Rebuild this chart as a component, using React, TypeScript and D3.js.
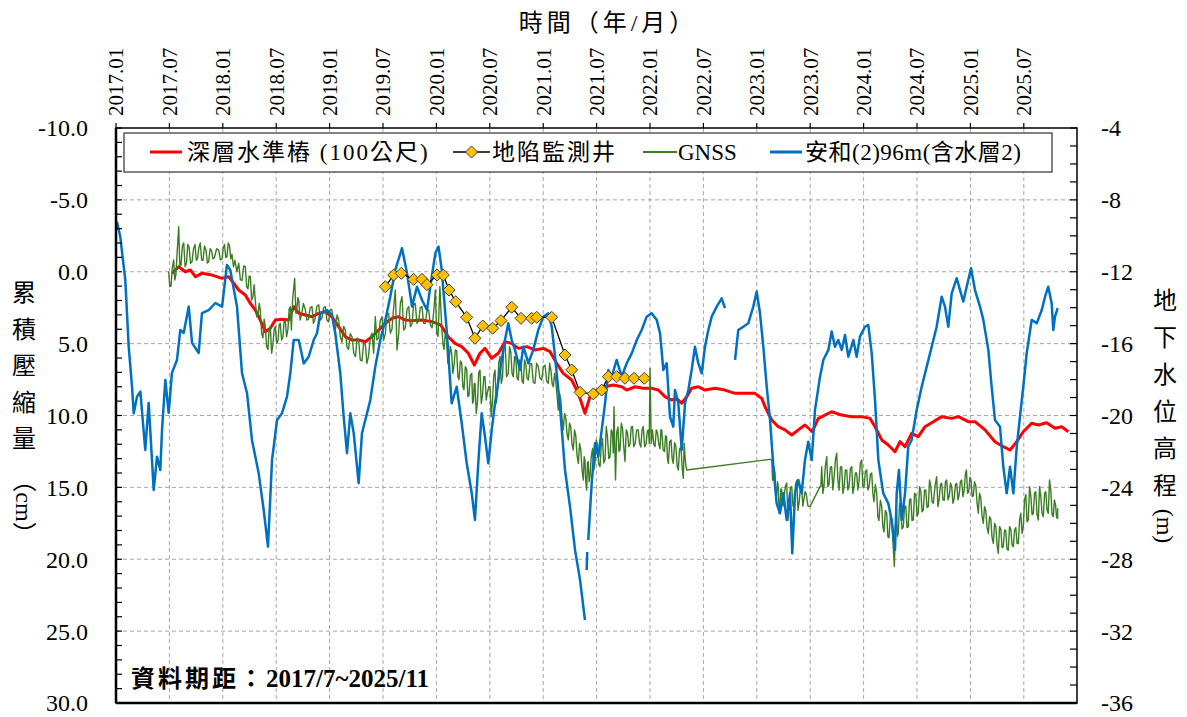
import React from "react";
import * as d3 from "d3";

// time axis labels (half-year)
const timeLabels = ["2017.01", "2017.07", "2018.01", "2018.07", "2019.01", "2019.07", "2020.01", "2020.07", "2021.01",
  "2021.07", "2022.01", "2022.07", "2023.01", "2023.07", "2024.01", "2024.07", "2025.01", "2025.07"];
const leftTicks = [-10, -5, 0, 5, 10, 15, 20, 25, 30];
const rightTicks = [-4, -8, -12, -16, -20, -24, -28, -32, -36];

// 深層水準樁 (100公尺) [decimal year, cm]
const benchmark: [number, number][] = [
  [2017.524, 0.11], [2017.587, -0.35], [2017.649, 0.0], [2017.696, -0.12], [2017.743, 0.34], [2017.805, 0.11],
  [2017.899, 0.23], [2017.993, 0.46], [2018.055, 0.34], [2018.102, 0.8], [2018.149, 1.27], [2018.211, 1.62],
  [2018.258, 2.2], [2018.304, 2.66], [2018.351, 3.36], [2018.398, 4.17], [2018.445, 3.93], [2018.492, 3.36],
  [2018.554, 3.31], [2018.617, 3.36], [2018.664, 2.43], [2018.711, 2.89], [2018.773, 3.01], [2018.835, 3.13],
  [2018.898, 2.89], [2018.96, 2.78], [2019.022, 3.13], [2019.085, 3.82], [2019.147, 4.52], [2019.21, 4.75],
  [2019.272, 4.75], [2019.334, 4.87], [2019.397, 4.52], [2019.46, 4.05], [2019.522, 3.59], [2019.584, 3.24],
  [2019.647, 3.13], [2019.709, 3.36], [2019.772, 3.4], [2019.865, 3.36], [2019.959, 3.47], [2020.037, 3.7],
  [2020.05, 3.82], [2020.111, 4.52], [2020.174, 4.98], [2020.237, 5.21], [2020.299, 5.67], [2020.355, 6.49],
  [2020.408, 5.67], [2020.455, 5.33], [2020.518, 6.02], [2020.58, 5.67], [2020.642, 4.87], [2020.705, 4.98],
  [2020.767, 5.33], [2020.846, 5.21], [2020.923, 5.44], [2021.001, 5.33], [2021.064, 5.56], [2021.126, 6.37],
  [2021.188, 7.07], [2021.267, 7.53], [2021.329, 8.46], [2021.391, 9.85], [2021.438, 8.69], [2021.501, 8.23],
  [2021.579, 8.0], [2021.656, 7.88], [2021.735, 8.0], [2021.782, 8.23], [2021.86, 8.0], [2021.937, 8.11],
  [2022.016, 8.11], [2022.078, 8.23], [2022.14, 8.69], [2022.203, 8.92], [2022.25, 8.81], [2022.297, 9.15],
  [2022.344, 8.69], [2022.39, 8.11], [2022.452, 8.0], [2022.515, 8.23], [2022.609, 8.11], [2022.702, 8.23],
  [2022.796, 8.46], [2022.89, 8.46], [2022.983, 8.46], [2023.046, 8.81], [2023.077, 9.39], [2023.14, 10.31],
  [2023.201, 10.78], [2023.264, 11.0], [2023.327, 11.36], [2023.389, 11.0], [2023.451, 10.66], [2023.52, 11.13],
  [2023.576, 10.2], [2023.639, 9.97], [2023.701, 9.74], [2023.795, 9.97], [2023.889, 10.08], [2023.982, 10.08],
  [2024.06, 10.2], [2024.107, 10.78], [2024.17, 11.7], [2024.231, 12.05], [2024.294, 12.52], [2024.341, 11.82],
  [2024.388, 12.17], [2024.45, 11.24], [2024.512, 11.47], [2024.575, 10.78], [2024.653, 10.43], [2024.731, 10.08],
  [2024.825, 10.2], [2024.887, 10.08], [2024.98, 10.43], [2025.043, 10.43], [2025.137, 11.0], [2025.23, 11.82],
  [2025.308, 12.17], [2025.371, 12.4], [2025.434, 11.82], [2025.495, 11.13], [2025.574, 10.54], [2025.636, 10.66],
  [2025.714, 10.5], [2025.792, 10.89], [2025.855, 10.78], [2025.917, 11.13],
];

// 地陷監測井 [decimal year, cm]
const monitorWell: [number, number][] = [
  [2019.522, 1.04], [2019.6, 0.23], [2019.671, 0.11], [2019.787, 0.53], [2019.865, 0.53], [2019.912, 0.9],
  [2020.006, 0.23], [2020.065, 0.23], [2020.118, 1.27], [2020.181, 2.08], [2020.284, 3.17], [2020.361, 4.63],
  [2020.434, 3.77], [2020.527, 3.93], [2020.605, 3.4], [2020.705, 2.47], [2020.792, 3.24], [2020.892, 3.24],
  [2020.939, 3.17], [2021.08, 3.17], [2021.204, 5.79], [2021.267, 6.83], [2021.345, 8.39], [2021.469, 8.5],
  [2021.548, 8.23], [2021.61, 7.3], [2021.688, 7.3], [2021.766, 7.41], [2021.85, 7.41], [2021.947, 7.41],
];

// GNSS [decimal year, reading, reading] (two readings per sample)
const gnss: [number, number, number][] = [
  [2017.493, 0.0, 1.04], [2017.515, 1.0, -0.3], [2017.54, -0.82, 0.57], [2017.561, 0.2, -1.5], [2017.587, -3.13, -0.35],
  [2017.609, -0.5, -1.8], [2017.634, -2.0, -0.35], [2017.66, -0.6, -1.9], [2017.684, -1.74, -0.59], [2017.712, -0.7, -1.6],
  [2017.74, -1.9, -0.8], [2017.763, -0.9, -1.7], [2017.789, -2.0, -0.82], [2017.815, -0.8, -1.8], [2017.843, -1.5, -0.6],
  [2017.868, -0.7, -1.6], [2017.894, -1.5, -0.9], [2017.922, -1.0, -1.6], [2017.962, -1.5, -0.82], [2017.993, -0.9, -1.7],
  [2018.016, -1.9, -1.0], [2018.039, -1.04, -2.0], [2018.063, -1.8, -0.9], [2018.086, -1.2, -0.35], [2018.114, -0.8, 0.0],
  [2018.149, -0.6, 0.57], [2018.18, 0.6, -0.4], [2018.211, -0.35, 1.04], [2018.236, 1.2, 0.3], [2018.258, 0.34, 1.97],
  [2018.283, 1.7, 0.9], [2018.304, 1.97, 3.13], [2018.33, 3.0, 2.2], [2018.351, 2.66, 4.28], [2018.376, 4.6, 3.3],
  [2018.398, 3.82, 5.21], [2018.423, 5.4, 4.0], [2018.445, 3.82, 5.67], [2018.47, 5.0, 4.0], [2018.492, 3.82, 4.98],
  [2018.517, 4.8, 3.7], [2018.538, 3.59, 4.75], [2018.564, 4.5, 3.4], [2018.585, 3.36, 4.52], [2018.61, 4.0, 2.6],
  [2018.632, 2.43, 4.05], [2018.653, 2.0, 1.2], [2018.673, 0.46, 2.89], [2018.695, 2.5, 1.8], [2018.711, 1.97, 3.36],
  [2018.737, 3.0, 2.2], [2018.773, 2.66, 3.36], [2018.802, 3.3, 2.5], [2018.835, 2.43, 3.59], [2018.863, 3.3, 2.4],
  [2018.898, 2.3, 3.36], [2018.929, 3.2, 2.5], [2018.96, 2.43, 3.36], [2018.99, 3.5, 2.6], [2019.022, 2.66, 3.82],
  [2019.055, 4.0, 3.0], [2019.085, 3.36, 4.52], [2019.116, 4.9, 3.8], [2019.147, 4.05, 5.21], [2019.177, 5.4, 4.3],
  [2019.21, 4.52, 5.67], [2019.243, 5.9, 4.6], [2019.272, 4.75, 6.14], [2019.303, 6.2, 5.0], [2019.334, 4.98, 6.37],
  [2019.364, 5.9, 4.6], [2019.397, 4.28, 5.67], [2019.428, 3.13, 4.75], [2019.458, 4.6, 3.4], [2019.491, 3.13, 4.75],
  [2019.522, 4.3, 3.0], [2019.553, 2.9, 4.28], [2019.584, 4.0, 2.5], [2019.615, 1.27, 5.44], [2019.647, 4.3, 2.2],
  [2019.678, 1.74, 4.05], [2019.709, 3.9, 2.6], [2019.741, 2.43, 3.82], [2019.772, 3.6, 2.3], [2019.802, 2.2, 3.59],
  [2019.834, 3.4, 2.5], [2019.865, 2.43, 3.59], [2019.896, 3.6, 2.7], [2019.928, 2.66, 3.7], [2019.959, 3.9, 2.8],
  [2019.99, 1.27, 4.28], [2020.015, 4.5, 1.04], [2020.05, 3.82, 4.98], [2020.071, 5.4, 4.2], [2020.096, 4.75, 6.37],
  [2020.118, 6.2, 5.2], [2020.143, 5.67, 7.07], [2020.165, 6.5, 5.44], [2020.19, 5.5, 7.3], [2020.212, 7.5, 6.2],
  [2020.237, 6.37, 8.0], [2020.258, 8.2, 6.6], [2020.284, 6.84, 8.69], [2020.305, 8.6, 7.2], [2020.331, 7.07, 9.15],
  [2020.347, 9.0, 7.8], [2020.361, 7.76, 9.85], [2020.385, 9.0, 7.0], [2020.408, 6.84, 9.15], [2020.432, 8.6, 7.3],
  [2020.455, 7.3, 8.92], [2020.478, 8.4, 8.0], [2020.502, 7.99, 10.08], [2020.525, 9.0, 7.2], [2020.549, 6.84, 9.15],
  [2020.572, 8.4, 6.3], [2020.596, 5.9, 7.76], [2020.619, 7.4, 5.2], [2020.642, 4.75, 7.3], [2020.673, 7.07, 5.21],
  [2020.697, 5.6, 7.1], [2020.72, 7.3, 5.9], [2020.743, 6.0, 7.4], [2020.767, 7.53, 6.14], [2020.79, 6.2, 7.6],
  [2020.814, 7.76, 6.14], [2020.837, 6.4, 7.4], [2020.861, 7.53, 6.37], [2020.892, 6.4, 7.7], [2020.923, 7.76, 6.37],
  [2020.954, 6.6, 7.4], [2020.986, 7.53, 6.6], [2021.017, 6.5, 7.6], [2021.048, 7.76, 6.37], [2021.073, 6.9, 7.8],
  [2021.095, 8.0, 7.07], [2021.118, 7.6, 8.6], [2021.141, 9.62, 8.46], [2021.165, 8.9, 10.2], [2021.188, 11.0, 9.85],
  [2021.212, 10.2, 11.3], [2021.235, 11.7, 10.54], [2021.258, 10.8, 12.0], [2021.282, 12.4, 11.0], [2021.305, 11.4, 12.8],
  [2021.329, 13.33, 11.94], [2021.352, 12.4, 13.8], [2021.376, 14.49, 12.86], [2021.391, 13.1, 14.6], [2021.407, 15.18, 13.3],
  [2021.422, 13.2, 14.6], [2021.438, 14.26, 12.86], [2021.462, 12.3, 13.8], [2021.485, 13.33, 11.7], [2021.508, 12.0, 13.4],
  [2021.532, 13.56, 12.17], [2021.555, 11.6, 13.3], [2021.579, 13.1, 10.77], [2021.602, 11.5, 13.0], [2021.626, 12.86, 11.0],
  [2021.649, 11.2, 12.6], [2021.663, 9.39, 12.0], [2021.677, 14.49, 11.2], [2021.7, 10.8, 12.5], [2021.719, 12.4, 10.54],
  [2021.743, 10.9, 12.2], [2021.766, 13.2, 11.0], [2021.789, 11.2, 12.17], [2021.813, 12.0, 10.8], [2021.836, 10.77, 12.17],
  [2021.86, 12.0, 11.0], [2021.89, 11.0, 11.94], [2021.914, 12.2, 11.0], [2021.937, 10.77, 12.17], [2021.963, 12.0, 11.1],
  [2021.986, 11.0, 11.94], [2022.0, 6.72, 11.94], [2022.023, 11.0, 12.0], [2022.047, 12.17, 11.0], [2022.07, 11.2, 12.0],
  [2022.094, 12.3, 11.0], [2022.11, 11.0, 12.4], [2022.136, 12.5, 11.4], [2022.155, 11.47, 13.0], [2022.172, 13.33, 11.8],
  [2022.197, 11.7, 13.0], [2022.218, 13.33, 11.9], [2022.243, 12.17, 13.5], [2022.265, 13.79, 12.3], [2022.29, 12.2, 13.6],
  [2022.312, 14.37, 11.94], [2022.328, 12.86, 13.5], [2022.344, 13.79, 13.79],
  [2023.124, 13.05, 13.05], [2023.14, 13.1, 14.49], [2023.155, 14.5, 13.6], [2023.17, 14.0, 15.87], [2023.186, 15.5, 14.6],
  [2023.201, 14.95, 16.8], [2023.217, 16.3, 15.1], [2023.233, 15.18, 16.3], [2023.257, 15.6, 14.9], [2023.28, 14.7, 17.3],
  [2023.303, 16.4, 15.0], [2023.327, 14.95, 16.3], [2023.35, 16.2, 14.8], [2023.374, 14.5, 16.6], [2023.397, 16.0, 15.0],
  [2023.42, 14.95, 16.3], [2023.442, 15.8, 15.3], [2023.461, 15.4, 16.3], [2023.498, 16.34, 16.34],
  [2023.592, 14.95, 14.95], [2023.608, 13.56, 15.42], [2023.629, 14.9, 13.5], [2023.655, 12.86, 14.95], [2023.676, 14.8, 13.6],
  [2023.701, 13.56, 15.18], [2023.723, 14.4, 13.1], [2023.748, 12.63, 14.49], [2023.77, 15.2, 13.6], [2023.795, 13.56, 15.42],
  [2023.817, 15.0, 13.8], [2023.842, 13.79, 15.18], [2023.863, 15.0, 13.7], [2023.889, 13.56, 15.42], [2023.91, 15.0, 14.0],
  [2023.935, 14.0, 15.18], [2023.957, 14.6, 13.3], [2023.982, 13.1, 14.95], [2024.004, 15.0, 13.9], [2024.029, 13.79, 15.18],
  [2024.051, 15.0, 14.1], [2024.076, 14.0, 15.42], [2024.097, 16.0, 14.8], [2024.123, 15.41, 17.04], [2024.144, 17.3, 15.9],
  [2024.17, 16.34, 17.73], [2024.191, 18.1, 16.6], [2024.216, 16.8, 18.43], [2024.238, 18.5, 17.0], [2024.263, 17.27, 18.9],
  [2024.288, 20.5, 17.73], [2024.308, 16.5, 18.4], [2024.325, 18.2, 16.1], [2024.348, 16.6, 17.9], [2024.372, 17.73, 16.34],
  [2024.395, 16.3, 17.8], [2024.418, 17.73, 15.87], [2024.442, 15.8, 17.3], [2024.465, 17.27, 15.41], [2024.489, 15.5, 17.0],
  [2024.512, 16.8, 14.95], [2024.536, 15.3, 16.7], [2024.559, 16.57, 15.18], [2024.582, 15.2, 16.4], [2024.606, 16.34, 14.49],
  [2024.629, 14.9, 16.0], [2024.653, 16.1, 14.95], [2024.684, 14.26, 16.34], [2024.708, 15.8, 14.8], [2024.731, 14.72, 15.87],
  [2024.755, 15.9, 14.6], [2024.778, 14.49, 15.87], [2024.802, 15.6, 14.7], [2024.825, 14.95, 16.1], [2024.848, 15.8, 14.8],
  [2024.872, 14.72, 15.87], [2024.895, 15.5, 14.6], [2024.918, 14.49, 15.64], [2024.942, 15.2, 14.1], [2024.963, 13.79, 15.41],
  [2024.985, 15.3, 14.3], [2025.006, 14.49, 15.64], [2025.027, 15.6, 14.6], [2025.051, 14.9, 16.1], [2025.074, 16.8, 15.41],
  [2025.097, 15.7, 17.0], [2025.121, 17.5, 16.34], [2025.144, 16.6, 17.8], [2025.168, 18.2, 17.04], [2025.191, 17.2, 18.5],
  [2025.215, 18.9, 17.5], [2025.238, 17.7, 19.0], [2025.261, 19.59, 17.73], [2025.285, 17.9, 19.2], [2025.308, 19.13, 17.97],
  [2025.331, 18.0, 19.3], [2025.355, 19.36, 17.73], [2025.378, 17.9, 19.0], [2025.402, 19.13, 17.97], [2025.425, 17.8, 18.9],
  [2025.449, 18.9, 17.27], [2025.472, 16.8, 18.2], [2025.495, 17.73, 15.87], [2025.519, 15.5, 17.4], [2025.542, 17.27, 14.95],
  [2025.566, 15.6, 16.9], [2025.589, 16.8, 15.41], [2025.612, 15.3, 16.9], [2025.636, 17.27, 14.95], [2025.659, 15.6, 16.8],
  [2025.683, 17.04, 15.41], [2025.706, 15.3, 16.6], [2025.729, 16.8, 14.49], [2025.753, 15.2, 16.9], [2025.776, 17.04, 15.87],
  [2025.797, 16.2, 17.1], [2025.817, 17.15, 16.45],
];

// 安和(2)96m(含水層2) [decimal year, groundwater level m], null = no record
const wellLevel: [number, number | null][] = [
  [2017.009, -9.21], [2017.04, -10.05], [2017.087, -12.46], [2017.119, -16.17], [2017.15, -18.4], [2017.166, -19.88],
  [2017.197, -18.95], [2017.228, -18.67], [2017.274, -21.92], [2017.306, -19.3], [2017.353, -24.14], [2017.384, -22.29],
  [2017.415, -23.03], [2017.431, -20.8], [2017.462, -18.02], [2017.493, -19.86], [2017.524, -17.63], [2017.571, -16.91],
  [2017.602, -15.24], [2017.634, -15.41], [2017.681, -13.94], [2017.712, -15.96], [2017.774, -16.52], [2017.805, -14.3],
  [2017.868, -14.13], [2017.93, -13.74], [2017.993, -13.94], [2018.039, -11.62], [2018.07, -11.9], [2018.133, -13.94],
  [2018.18, -17.65], [2018.227, -18.76], [2018.273, -21.36], [2018.336, -23.22], [2018.383, -25.26], [2018.423, -27.3],
  [2018.461, -22.48], [2018.508, -20.25], [2018.554, -19.88], [2018.601, -18.95], [2018.632, -17.65], [2018.664, -15.8],
  [2018.711, -15.8], [2018.758, -17.1], [2018.804, -16.73], [2018.851, -15.8], [2018.882, -15.42], [2018.913, -14.31],
  [2018.976, -14.13], [2019.022, -14.4], [2019.053, -15.42], [2019.1, -17.65], [2019.132, -20.07], [2019.163, -22.1],
  [2019.194, -19.88], [2019.226, -20.99], [2019.272, -23.77], [2019.303, -20.99], [2019.35, -19.88], [2019.381, -19.14],
  [2019.428, -17.28], [2019.475, -15.8], [2019.522, -14.68], [2019.568, -13.39], [2019.615, -11.9], [2019.678, -10.69],
  [2019.725, -12.09], [2019.772, -13.94], [2019.818, -12.83], [2019.865, -13.57], [2019.912, -14.13], [2019.943, -12.83],
  [2019.99, -10.97], [2020.02, -10.6], [2020.05, -11.9], [2020.096, -15.24], [2020.143, -19.32], [2020.19, -18.4],
  [2020.237, -20.43], [2020.284, -22.66], [2020.331, -24.33], [2020.361, -25.81], [2020.392, -22.66], [2020.424, -19.88],
  [2020.455, -21.18], [2020.486, -22.66], [2020.518, -20.8], [2020.549, -19.32], [2020.596, -17.47], [2020.642, -15.8],
  [2020.673, -14.87], [2020.705, -15.8], [2020.736, -16.35], [2020.783, -17.47], [2020.814, -16.17], [2020.861, -17.09],
  [2020.907, -16.35], [2020.954, -15.24], [2021.001, -14.5], [2021.048, -14.31], [2021.08, -15.06], [2021.111, -16.73],
  [2021.157, -19.51], [2021.204, -23.03], [2021.251, -25.07], [2021.298, -27.48], [2021.345, -29.15], [2021.391, -31.38],
  [2021.4, null], [2021.407, -28.6], [2021.412, -27.6], [2021.415, null],
  [2021.422, -26.93], [2021.454, -23.77], [2021.485, -21.55], [2021.516, -22.29], [2021.548, -20.8], [2021.579, -19.32],
  [2021.61, -17.47], [2021.641, -17.84], [2021.688, -16.91], [2021.735, -17.84], [2021.782, -17.09], [2021.829, -16.54],
  [2021.876, -15.8], [2021.922, -15.24], [2021.969, -14.5], [2022.016, -14.31], [2022.063, -14.68], [2022.094, -15.42],
  [2022.125, -17.47], [2022.156, -17.09], [2022.187, -20.07], [2022.218, -20.62], [2022.234, -18.58], [2022.265, -19.32],
  [2022.297, -21.92], [2022.328, -19.32], [2022.359, -18.58], [2022.39, -17.47], [2022.421, -16.17], [2022.452, -17.09],
  [2022.484, -17.65], [2022.515, -16.17], [2022.546, -15.24], [2022.578, -14.5], [2022.625, -13.94], [2022.671, -13.48],
  [2022.702, -14.03], [2022.75, null],
  [2022.796, -16.91], [2022.827, -15.24], [2022.874, -15.06], [2022.92, -14.87], [2022.967, -13.94], [2022.999, -13.1],
  [2023.03, -14.31], [2023.061, -16.17], [2023.093, -18.4], [2023.124, -20.25], [2023.155, -22.85], [2023.186, -24.89],
  [2023.217, -25.44], [2023.248, -24.33], [2023.28, -25.81], [2023.311, -24.33], [2023.332, -27.67], [2023.358, -24.33],
  [2023.389, -23.59], [2023.42, -24.33], [2023.451, -22.48], [2023.482, -21.46], [2023.514, -22.48], [2023.545, -19.69],
  [2023.592, -17.84], [2023.623, -16.91], [2023.67, -16.35], [2023.701, -15.33], [2023.732, -16.17], [2023.763, -15.8],
  [2023.795, -16.35], [2023.826, -15.52], [2023.857, -16.73], [2023.904, -15.8], [2023.935, -16.73], [2023.966, -15.61],
  [2024.013, -15.06], [2024.044, -14.96], [2024.076, -16.54], [2024.107, -19.14], [2024.138, -22.48], [2024.184, -24.33],
  [2024.231, -24.89], [2024.263, -25.81], [2024.294, -27.48], [2024.31, -24.33], [2024.331, -23.03], [2024.357, -25.81],
  [2024.388, -24.33], [2024.418, -21.74], [2024.45, -21.36], [2024.497, -19.69], [2024.544, -18.4], [2024.591, -17.28],
  [2024.638, -16.17], [2024.684, -15.06], [2024.731, -13.39], [2024.762, -13.94], [2024.793, -15.06], [2024.825, -13.2],
  [2024.872, -12.36], [2024.903, -13.02], [2024.934, -13.66], [2024.965, -12.83], [2025.006, -11.81], [2025.043, -13.02],
  [2025.09, -13.94], [2025.121, -14.68], [2025.168, -16.35], [2025.199, -18.4], [2025.23, -20.25], [2025.277, -20.62],
  [2025.308, -22.85], [2025.34, -24.33], [2025.371, -22.85], [2025.402, -24.33], [2025.434, -21.74], [2025.464, -20.07],
  [2025.495, -18.4], [2025.527, -16.54], [2025.574, -14.68], [2025.621, -14.87], [2025.668, -14.13], [2025.699, -13.39],
  [2025.729, -12.83], [2025.761, -13.76], [2025.776, -15.24], [2025.792, -14.5], [2025.817, -14.03],
];

const W = 1187;
const H = 717;
const L = 116, R = 1077, T = 128, B = 703;
const FONT = "'Liberation Serif', 'Times New Roman', 'Noto Sans CJK TC', serif";
const RED = "#FF0000", GREEN = "#3B7D23", BLUE = "#0070C0", GOLD = "#FFC000";

export default function App() {
  const x = d3.scaleLinear().domain([2017, 2026]).range([L, R + 0.2]);
  const yL = d3.scaleLinear().domain([-10, 30]).range([T, B]);
  const yR = d3.scaleLinear().domain([-4, -36]).range([T, B]);

  const halfYears = timeLabels.map((_, i) => 2017 + i / 2);

  const redLine = d3.line<[number, number]>().x(d => x(d[0])).y(d => yL(d[1]));
  // second reading of each sample is placed halfway to the next sample
  const greenPts: [number, number][] = gnss.flatMap(([t, a, b], i) => {
    const next = gnss[i + 1];
    const mid = next && next[0] - t < 0.05 ? (t + next[0]) / 2 : t;
    return [[t, a], [mid, b]] as [number, number][];
  });
  const blueLine = d3.line<[number, number | null]>()
    .defined(d => d[1] !== null)
    .x(d => x(d[0])).y(d => yR(d[1] as number));

  const diamond = (cx: number, cy: number, r = 6) =>
    `M${cx},${cy - r}L${cx + r},${cy}L${cx},${cy + r}L${cx - r},${cy}Z`;

  const minorLeft = d3.range(-10, 31, 1);
  const minorRight = d3.range(-4, -37, -1);

  const leftTitle = ["累", "積", "壓", "縮", "量"];
  const rightTitle = ["地", "下", "水", "位", "高", "程"];

  const legY = 152;

  return (
    <div style={{ position: "absolute", left: 0, top: 0 }}>
      <svg width={W} height={H} style={{ display: "block", background: "#fff" }} fontFamily={FONT}>
        <rect x={0} y={0} width={W} height={H} fill="#fff" />
        {/* grid */}
        {halfYears.slice(1).map(t => (
          <line key={"vg" + t} x1={x(t)} x2={x(t)} y1={T} y2={B} stroke="#A6A6A6" strokeDasharray="4,3" strokeWidth={1} />
        ))}
        {leftTicks.slice(1, -1).map(v => (
          <line key={"hg" + v} x1={L} x2={R} y1={yL(v)} y2={yL(v)} stroke="#A6A6A6" strokeDasharray="4,3" strokeWidth={1} />
        ))}

        {/* series */}
        <path d={redLine(benchmark) || ""} fill="none" stroke={RED} strokeWidth={3} strokeLinejoin="round" />
        <path d={redLine(greenPts) || ""} fill="none" stroke={GREEN} strokeWidth={1.4} strokeLinejoin="round" />
        <path d={blueLine(wellLevel) || ""} fill="none" stroke={BLUE} strokeWidth={2.5} strokeLinejoin="round" />
        <path d={redLine(monitorWell) || ""} fill="none" stroke="#000" strokeWidth={1.3} />
        {monitorWell.map(([t, v]) => (
          <path key={"d" + t} d={diamond(x(t), yL(v))} fill={GOLD} stroke="#404040" strokeWidth={1} />
        ))}

        {/* frame */}
        <rect x={L} y={T} width={R - L} height={B - T} fill="none" stroke="#000" strokeWidth={1.5} />
        <line x1={L} x2={L} y1={T} y2={B} stroke="#000" strokeWidth={2.5} />
        <line x1={L} x2={R} y1={B} y2={B} stroke="#000" strokeWidth={2.5} />

        {/* left ticks */}
        {minorLeft.map(v => (
          <line key={"lt" + v} x1={L} x2={L + 6} y1={yL(v)} y2={yL(v)} stroke="#000" strokeWidth={1.2} />
        ))}
        {leftTicks.map(v => (
          <text key={"ll" + v} x={88} y={yL(v)} dy="0.35em" textAnchor="end" fontSize={24}>{v.toFixed(1)}</text>
        ))}
        {/* right ticks */}
        {minorRight.map(v => (
          <line key={"rt" + v} x1={R - 7} x2={R} y1={yR(v)} y2={yR(v)} stroke="#000" strokeWidth={1.2} />
        ))}
        {rightTicks.map(v => (
          <text key={"rl" + v} x={1101} y={yR(v)} dy="0.35em" textAnchor="start" fontSize={24}>{v}</text>
        ))}
        {/* top ticks + labels */}
        {halfYears.map((t, i) => (
          <g key={"tt" + t}>
            <line x1={x(t)} x2={x(t)} y1={T - 5} y2={T} stroke="#000" strokeWidth={1.2} />
            <text transform={`translate(${x(t)},116) rotate(-90)`} dy="0.35em" textAnchor="start" fontSize={21}>
              {timeLabels[i]}
            </text>
          </g>
        ))}

        {/* titles */}
        <text x={608} y={31} textAnchor="middle" fontSize={24} letterSpacing={4}>時間（年/月）</text>
        {leftTitle.map((c, i) => (
          <text key={"lt-" + c} x={24} y={293 + i * 36.5} dy="0.35em" textAnchor="middle" fontSize={24}>{c}</text>
        ))}
        <text transform="translate(24,507) rotate(90)" dy="0.35em" textAnchor="middle" fontSize={24}>（cm）</text>
        {rightTitle.map((c, i) => (
          <text key={"rt-" + c} x={1165} y={301 + i * 37} dy="0.35em" textAnchor="middle" fontSize={24}>{c}</text>
        ))}
        <text transform="translate(1165,526) rotate(90)" dy="0.35em" textAnchor="middle" fontSize={24}>(m)</text>

        {/* legend */}
        <rect x={124} y={133} width={928} height={39} fill="#fff" stroke="#404040" strokeWidth={1.3} />
        <line x1={150} x2={182} y1={legY} y2={legY} stroke={RED} strokeWidth={3} />
        <text x={187} y={legY} dy="0.35em" fontSize={23} letterSpacing={2}>深層水準樁 (100公尺)</text>
        <line x1={453} x2={490} y1={legY} y2={legY} stroke="#000" strokeWidth={1.3} />
        <path d={diamond(471.5, legY)} fill={GOLD} stroke="#404040" strokeWidth={1} />
        <text x={492} y={legY} dy="0.35em" fontSize={23} letterSpacing={2}>地陷監測井</text>
        <line x1={643} x2={677} y1={legY} y2={legY} stroke={GREEN} strokeWidth={2} />
        <text x={678} y={legY} dy="0.35em" fontSize={23}>GNSS</text>
        <line x1={770} x2={802} y1={legY} y2={legY} stroke={BLUE} strokeWidth={3} />
        <text x={805} y={legY} dy="0.35em" fontSize={23} letterSpacing={0.5}>安和(2)96m(含水層2)</text>

        {/* note */}
        <text x={131} y={687} fontSize={24} fontWeight="bold">
          <tspan letterSpacing={3}>資料期距：</tspan>
          <tspan fontSize={25}>2017/7~2025/11</tspan>
        </text>
      </svg>
    </div>
  );
}
